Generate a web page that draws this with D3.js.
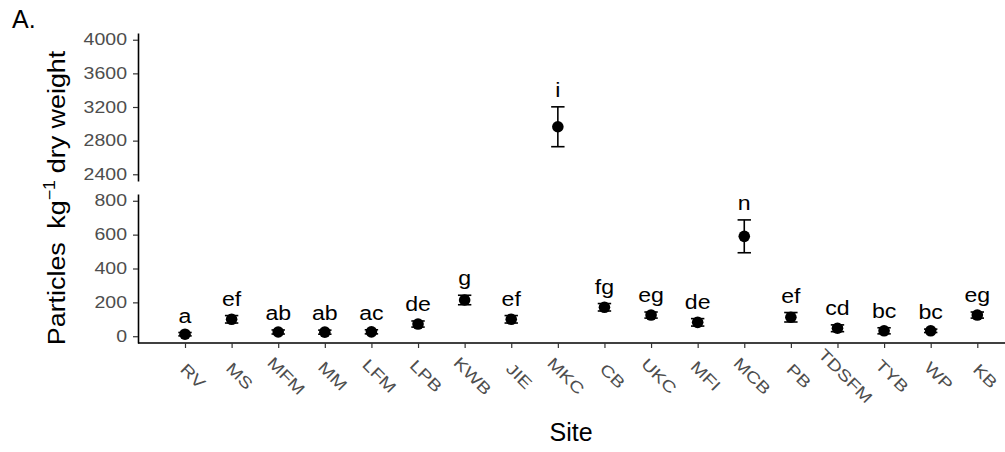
<!DOCTYPE html>
<html>
<head>
<meta charset="utf-8">
<title></title>
<style>
  body { margin: 0; background: #fff; }
  text { font-family: Arial, "Liberation Sans", sans-serif; }
  .axis path { stroke: #000; stroke-width: 1.6px; }
  .axis line { stroke: #333; stroke-width: 1.2px; }
  .axis text { fill: #4d4d4d; }
</style>
</head>
<body>
<script src="https://d3js.org/d3.v7.min.js"></script>
<script>
var sites  = ["RV","MS","MFM","MM","LFM","LPB","KWB","JIE","MKC","CB","UKC","MFI","MCB","PB","TDSFM","TYB","WP","KB"];
var means  = [12, 100, 25, 24, 26, 72, 214, 100, 2965, 171, 125, 82, 590, 112, 47, 32, 32, 125];
var ses    = [10, 22, 12, 12, 12, 18, 28, 22, 237, 22, 18, 22, 97, 28, 20, 18, 10, 18];
var groups = ["a","ef","ab","ab","ac","de","g","ef","i","fg","eg","de","n","ef","cd","bc","bc","eg"];
var lowTicks  = [0, 200, 400, 600, 800];
var highTicks = [2400, 2800, 3200, 3600, 4000];
var breakAt = 1000;

var width = 1005, height = 452;

var svg = d3.select("body").append("svg")
    .attr("width", width)
    .attr("height", height);

var x = d3.scalePoint().domain(sites).range([185, 977.3]);
var yHigh = d3.scaleLinear().domain([2320, 4080]).range([181, 33]);
var yLow  = d3.scaleLinear().domain([-40, 840]).range([343, 194]);

function yFor(v) { return v > breakAt ? yHigh : yLow; }

var data = sites.map(function(s, i) {
  return { site: s, mean: means[i], se: ses[i], group: groups[i] };
});

// y axes (broken in two pieces)
function styleY(g) {
  g.selectAll(".tick text")
    .attr("font-size", "16px")
    .attr("x", -11 / 1.22)
    .attr("transform", "scale(1.22,1)");
}

svg.append("g").attr("class", "axis")
  .attr("transform", "translate(138,0)")
  .call(d3.axisLeft(yHigh).tickValues(highTicks).tickFormat(d3.format("d")).tickSize(5).tickSizeOuter(0))
  .call(styleY);

svg.append("g").attr("class", "axis")
  .attr("transform", "translate(138,0)")
  .call(d3.axisLeft(yLow).tickValues(lowTicks).tickFormat(d3.format("d")).tickSize(5).tickSizeOuter(0))
  .call(styleY);

// x axis
var xg = svg.append("g").attr("class", "axis")
  .attr("transform", "translate(0,343)")
  .call(d3.axisBottom(x).tickSize(5).tickSizeOuter(0));
xg.select(".domain").attr("d", "M138,0H1005");
xg.selectAll(".tick text")
  .attr("font-size", "16px")
  .attr("text-anchor", "middle")
  .attr("x", 0).attr("y", 0).attr("dy", "0.35em")
  .attr("transform", "translate(7.5,33) rotate(45) scale(1.25,1)");

// error bars
var bars = svg.append("g").selectAll("g")
  .data(data).enter().append("g");

bars.append("line")
  .attr("x1", function(d) { return x(d.site); })
  .attr("x2", function(d) { return x(d.site); })
  .attr("y1", function(d) { return yFor(d.mean)(d.mean - d.se); })
  .attr("y2", function(d) { return yFor(d.mean)(d.mean + d.se); })
  .attr("stroke", "#000").attr("stroke-width", 1.6);

[-1, 1].forEach(function(k) {
  bars.append("line")
    .attr("x1", function(d) { return x(d.site) - 6.7; })
    .attr("x2", function(d) { return x(d.site) + 6.7; })
    .attr("y1", function(d) { return yFor(d.mean)(d.mean + k * d.se); })
    .attr("y2", function(d) { return yFor(d.mean)(d.mean + k * d.se); })
    .attr("stroke", "#000").attr("stroke-width", 1.6);
});

bars.append("circle")
  .attr("cx", function(d) { return x(d.site); })
  .attr("cy", function(d) { return yFor(d.mean)(d.mean); })
  .attr("r", 5.8)
  .attr("fill", "#000");

// group letters
bars.append("text")
  .attr("text-anchor", "middle")
  .attr("font-size", "21px")
  .attr("fill", "#000")
  .attr("transform", function(d) {
    return "translate(" + x(d.site) + "," + (yFor(d.mean)(d.mean + d.se) - 10) + ") scale(1.1,1)";
  })
  .text(function(d) { return d.group; });

// titles
svg.append("text")
  .attr("x", 571).attr("y", 441)
  .attr("text-anchor", "middle")
  .attr("font-size", "25px")
  .text("Site");

svg.append("text")
  .attr("x", 12).attr("y", 28)
  .attr("font-size", "25px")
  .text("A.");

var yt = svg.append("text")
  .attr("text-anchor", "middle")
  .attr("font-size", "24px")
  .attr("transform", "translate(65,198) rotate(-90) scale(1.12,1)");
yt.append("tspan").text("Particles");
yt.append("tspan").attr("dx", 12).text("kg");
yt.append("tspan").attr("font-size", "16px").attr("dy", -10).text("\u22121");
yt.append("tspan").attr("dy", 10).attr("dx", 6).text("dry weight");
</script>
</body>
</html>
